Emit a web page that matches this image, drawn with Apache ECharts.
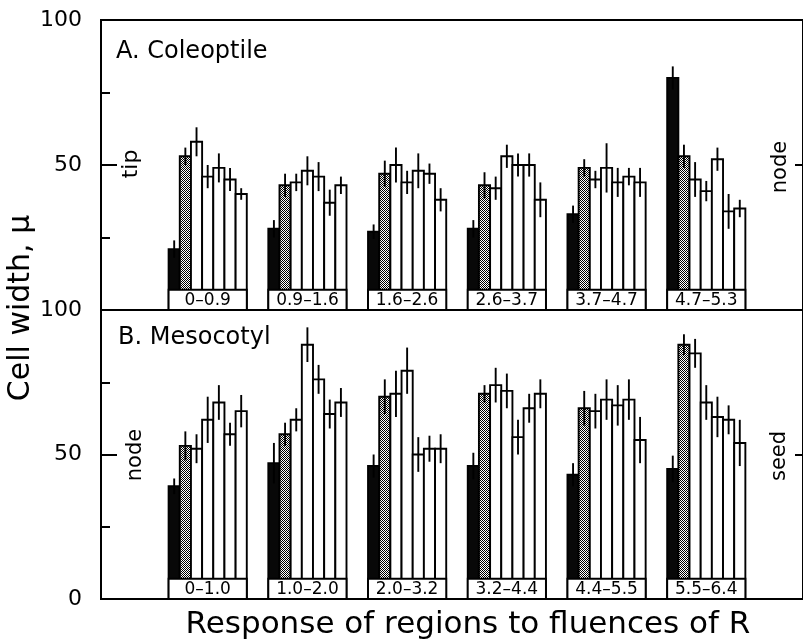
<!DOCTYPE html>
<html>
<head>
<meta charset="utf-8">
<script src="https://cdn.jsdelivr.net/npm/echarts@6/dist/echarts.min.js"></script>
<style>
  html, body { margin: 0; padding: 0; background: #fff; }
  #chart { width: 803px; height: 641px; }
</style>
</head>
<body>
<div id="chart"></div>
<script>
// Fluence ranges (one group of seven bars each)
const coleoptileRanges = ['0–0.9', '0.9–1.6', '1.6–2.6', '2.6–3.7', '3.7–4.7', '4.7–5.3'];
const mesocotylRanges  = ['0–1.0', '1.0–2.0', '2.0–3.2', '3.2–4.4', '4.4–5.5', '5.5–6.4'];

// Mean cell width (µ) per region, tip → node, for each fluence range
const coleoptileMeans = [
  [21, 53, 58, 46, 49, 45, 40],
  [28, 43, 44, 48, 46, 37, 43],
  [27, 47, 50, 44, 48, 47, 38],
  [28, 43, 42, 53, 50, 50, 38],
  [33, 49, 45, 49, 44, 46, 44],
  [80, 53, 45, 41, 52, 34, 35]
];
const coleoptileErrors = [
  [3, 3, 5, 4, 5, 4, 2],
  [3, 4, 3, 5, 5, 4.5, 3],
  [2.5, 4.5, 6, 4, 6, 3.5, 4],
  [3, 4.5, 4, 4, 4, 4, 6],
  [3, 3, 3, 8.5, 5, 3, 5],
  [4, 4, 6, 3.5, 4, 6, 3]
];

// Mean cell width (µ) per region, node → seed, for each fluence range
const mesocotylMeans = [
  [39, 53, 52, 62, 68, 57, 65],
  [47, 57, 62, 88, 76, 64, 68],
  [46, 70, 71, 79, 50, 52, 52],
  [46, 71, 74, 72, 56, 66, 71],
  [43, 66, 65, 69, 67, 69, 55],
  [45, 88, 85, 68, 63, 62, 54]
];
const mesocotylErrors = [
  [2.7, 5, 5, 8, 6, 4, 5.6],
  [7, 4, 4, 6, 5, 5, 5],
  [4, 6, 8, 8, 6, 4.5, 5],
  [4.6, 3, 6, 6, 6, 5, 5],
  [4, 6, 6, 7, 7, 7, 8],
  [4.6, 3.6, 5, 6, 7, 5, 8]
];

const yTicks = [0, 50, 100];

// ---- layout constants (x axis runs in "group" units) ----
const GROUP_X0 = 1.07;   // centre of first group
const BAR_W = 0.112;     // width of one bar
const BOX_TOP = 7;       // height of the range-label box, in µ
const FONT = 'DejaVu Sans';

// dithered fill for the second bar of every group
function makeDither() {
  const c = document.createElement('canvas');
  c.width = 2; c.height = 2;
  const ctx = c.getContext('2d');
  ctx.fillStyle = '#fff'; ctx.fillRect(0, 0, 2, 2);
  ctx.fillStyle = '#000'; ctx.fillRect(0, 0, 1, 1); ctx.fillRect(1, 1, 1, 1);
  return c;
}
const dither = { image: makeDither(), repeat: 'repeat' };

function toItems(means, errors) {
  const out = [];
  means.forEach((row, g) => row.forEach((v, b) => out.push([g, b, v, errors[g][b]])));
  return out;
}

function renderBar(params, api) {
  const g = api.value(0), b = api.value(1), v = api.value(2), e = api.value(3);
  const xc = GROUP_X0 + g + (b - 3) * BAR_W;
  const tl = api.coord([xc - BAR_W / 2, v]);
  const br = api.coord([xc + BAR_W / 2, 0]);
  const hi = api.coord([xc, v + e]);
  const lo = api.coord([xc, v - e]);
  const fill = b === 0 ? '#080808' : (b === 1 ? dither : '#fff');
  return {
    type: 'group',
    children: [
      { type: 'rect', shape: { x: tl[0], y: tl[1], width: br[0] - tl[0], height: br[1] - tl[1] },
        style: { fill: fill, stroke: '#000', lineWidth: 1.9 } },
      { type: 'line', shape: { x1: hi[0], y1: hi[1], x2: lo[0], y2: lo[1] },
        style: { stroke: '#000', lineWidth: 1.9 } }
    ]
  };
}

function makeBoxRenderer(labels) {
  return function (params, api) {
    const g = api.value(0);
    const c = GROUP_X0 + g;
    const p1 = api.coord([c - 3.5 * BAR_W, BOX_TOP]);
    const p2 = api.coord([c + 3.5 * BAR_W, 0]);
    return {
      type: 'group',
      children: [
        { type: 'rect', shape: { x: p1[0], y: p1[1], width: p2[0] - p1[0], height: p2[1] - p1[1] },
          style: { fill: '#fff', stroke: '#000', lineWidth: 1.9 } },
        { type: 'text', x: (p1[0] + p2[0]) / 2, y: (p1[1] + p2[1]) / 2 + 1,
          style: { text: labels[g], fill: '#000', font: '17px "' + FONT + '"',
                   align: 'center', verticalAlign: 'middle' } }
      ]
    };
  };
}

function leftAxis(gridIndex, hideZero) {
  return {
    type: 'value', gridIndex: gridIndex, position: 'left',
    min: yTicks[0], max: yTicks[yTicks.length - 1], interval: yTicks[1] - yTicks[0],
    axisLine: { show: false },
    axisTick: { inside: true, length: 16, lineStyle: { color: '#000', width: 2 } },
    minorTick: { show: true, splitNumber: 2, length: 9, lineStyle: { color: '#000', width: 2 } },
    splitLine: { show: false },
    minorSplitLine: { show: false },
    axisLabel: {
      color: '#000', fontSize: 22, fontFamily: FONT, margin: 19,
      formatter: v => (hideZero && v === 0) ? '' : String(v)
    }
  };
}
function rightAxis(gridIndex) {
  return {
    type: 'value', gridIndex: gridIndex, position: 'right',
    min: yTicks[0], max: yTicks[yTicks.length - 1], interval: yTicks[1] - yTicks[0],
    axisLine: { show: false },
    axisTick: { inside: true, length: 8, lineStyle: { color: '#000', width: 2 } },
    splitLine: { show: false },
    axisLabel: { show: false }
  };
}

const groupIdx = coleoptileRanges.map((_, i) => [i]);

function sideText(text, x, y, size, rotate) {
  return {
    type: 'text', x: x, y: y, rotation: rotate ? Math.PI / 2 : 0,
    style: { text: text, fill: '#000', font: size + 'px "' + FONT + '"',
             align: rotate ? 'center' : 'left', verticalAlign: 'middle' }
  };
}

const chart = echarts.init(document.getElementById('chart'), null, { renderer: 'canvas' });
chart.setOption({
  animation: false,
  backgroundColor: '#fff',
  grid: [
    { left: 101, top: 20, width: 704, height: 290, show: true, borderColor: '#000', borderWidth: 2 },
    { left: 101, top: 310, width: 704, height: 289, show: true, borderColor: '#000', borderWidth: 2 }
  ],
  xAxis: [
    { type: 'value', gridIndex: 0, min: 0, max: 7.04, show: false },
    { type: 'value', gridIndex: 1, min: 0, max: 7.04, show: false }
  ],
  yAxis: [leftAxis(0, true), rightAxis(0), leftAxis(1, false), rightAxis(1)],
  series: [
    { type: 'custom', xAxisIndex: 0, yAxisIndex: 0, renderItem: renderBar,
      data: toItems(coleoptileMeans, coleoptileErrors), z: 2 },
    { type: 'custom', xAxisIndex: 0, yAxisIndex: 0, renderItem: makeBoxRenderer(coleoptileRanges),
      data: groupIdx, z: 3 },
    { type: 'custom', xAxisIndex: 1, yAxisIndex: 2, renderItem: renderBar,
      data: toItems(mesocotylMeans, mesocotylErrors), z: 2 },
    { type: 'custom', xAxisIndex: 1, yAxisIndex: 2, renderItem: makeBoxRenderer(mesocotylRanges),
      data: groupIdx, z: 3 }
  ],
  graphic: [
    sideText('A. Coleoptile', 116, 52, 24, false),
    sideText('B. Mesocotyl', 118, 338, 24, false),
    sideText('tip', 131, 164, 22, true),
    sideText('node', 781, 167, 21, true),
    sideText('node', 136, 455, 21, true),
    sideText('seed', 780, 456, 21, true),
    sideText('Cell width, μ', 21, 308, 30, true),
    { type: 'text', x: 468, y: 625,
      style: { text: 'Response of regions to fluences of R', fill: '#000',
               font: '31px "' + FONT + '"', align: 'center', verticalAlign: 'middle' } }
  ]
});
</script>
</body>
</html>
